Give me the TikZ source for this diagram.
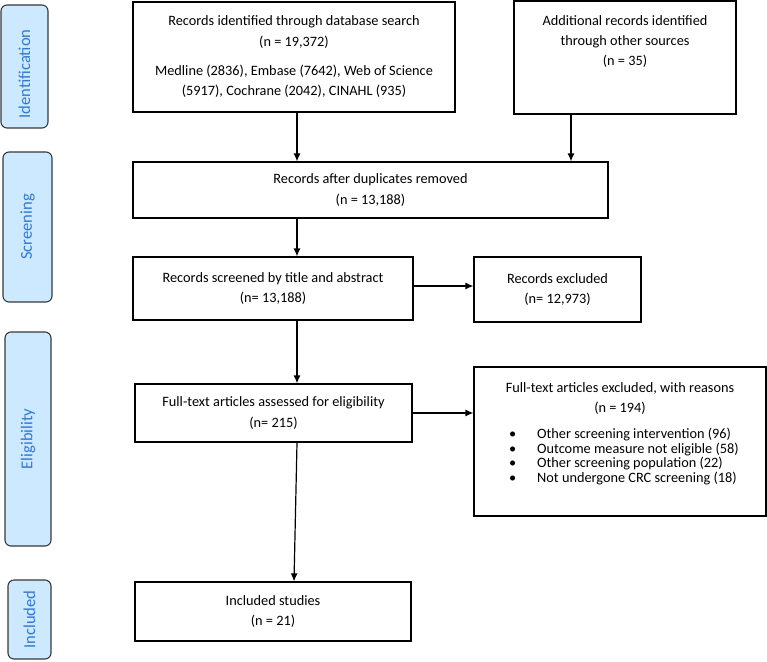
\documentclass[tikz,border=0pt]{standalone}
\usepackage{fontspec}
\setmainfont{Carlito}
\usetikzlibrary{arrows.meta}
\definecolor{sidefill}{RGB}{205,233,255}
\definecolor{sideline}{RGB}{55,55,55}
\definecolor{sidetext}{RGB}{50,120,210}
\tikzset{
  sidebox/.style={draw=sideline, fill=sidefill, line width=1.1pt, rounded corners=6pt, inner sep=0pt},
  sidelabel/.style={rotate=90, text=sidetext, font=\fontsize{16.6}{20}\selectfont, inner sep=0pt},
  flowbox/.style={draw=black, line width=1.2pt, inner sep=0pt, align=center, font=\fontsize{14.3}{20.5}\selectfont},
  txt/.style={inner sep=0pt, align=center, font=\fontsize{14.3}{20}\selectfont},
  arr/.style={line width=1.2pt, -{Latex[length=8pt,width=7pt]}}
}
\begin{document}
\begin{tikzpicture}[x=1pt,y=-1pt]
\useasboundingbox (0,0) rectangle (767,661);
% side phase boxes
\node[sidebox, minimum width=47, minimum height=123] (sid) at (24.5,66.5) {};
\node[sidelabel] (lid) at (24.5,74) {Identification};
\node[sidebox, minimum width=49, minimum height=150] (sscr) at (27.5,227) {};
\node[sidelabel] (lscr) at (sscr) {Screening};
\node[sidebox, minimum width=46, minimum height=214] (seli) at (28,439) {};
\node[sidelabel] (leli) at (seli) {Eligibility};
\node[sidebox, minimum width=43, minimum height=79] (sinc) at (29.5,619.5) {};
\node[sidelabel] (linc) at (sinc) {Included};
% flow boxes
\node[flowbox, minimum width=322, minimum height=110] (b1) at (294,57)
  {Records identified through database search\\(n = 19,372)\\[8.5pt]Medline (2836), Embase (7642), Web of Science\\(5917), Cochrane (2042), CINAHL (935)};
\node[flowbox, minimum width=222, minimum height=113] (b2) at (625,57.5) {};
\node[txt, anchor=north] (t2) at (625,15) {Additional records identified\\through other sources\\(n = 35)};
\node[flowbox, minimum width=475, minimum height=56] (b3) at (370.5,190)
  {Records after duplicates removed\\(n = 13,188)};
\node[flowbox, minimum width=280, minimum height=63] (b4) at (273,288.5)
  {Records screened by title and abstract\\(n= 13,188)};
\node[flowbox, minimum width=167, minimum height=65] (b5) at (557.5,289.5)
  {Records excluded\\(n= 12,973)};
\node[flowbox, minimum width=277, minimum height=58] (b6) at (273.5,413)
  {Full-text articles assessed for eligibility\\(n= 215)};
\node[flowbox, minimum width=292, minimum height=149] (b7) at (620,441.5) {};
\node[txt, anchor=north] (t7) at (620,382) {Full-text articles excluded, with reasons\\(n = 194)};
\node[inner sep=0pt, anchor=north west, align=left, font=\fontsize{14.3}{13.6}\selectfont] (l7) at (509,428)
  {\makebox[28pt][l]{•}Other screening intervention (96)\\[1pt]
   \makebox[28pt][l]{•}Outcome measure not eligible (58)\\[1pt]
   \makebox[28pt][l]{•}Other screening population (22)\\[1pt]
   \makebox[28pt][l]{•}Not undergone CRC screening (18)};
\node[flowbox, minimum width=276, minimum height=59] (b8) at (273,611.5)
  {Included studies\\(n = 21)};
% connectors
\draw[arr] ([xshift=3pt]b1.south) -- ([xshift=3pt]b1.south |- b3.north);
\draw[arr] ([xshift=-54pt]b2.south) -- ([xshift=-54pt]b2.south |- b3.north);
\draw[arr] ([xshift=-73.5pt]b3.south) -- ([xshift=-73.5pt]b3.south |- b4.north);
\draw[arr] ([xshift=24pt]b4.south) -- ([xshift=24pt]b4.south |- b6.north);
\draw[arr] ([yshift=2.5pt]b4.east) -- ([yshift=2.5pt]b4.east -| b5.west);
\draw[arr] (b6.east) -- (b6.east -| b7.west);
\draw[arr] ([xshift=23.5pt]b6.south) -- ([xshift=21pt]b8.north);
\end{tikzpicture}
\end{document}
